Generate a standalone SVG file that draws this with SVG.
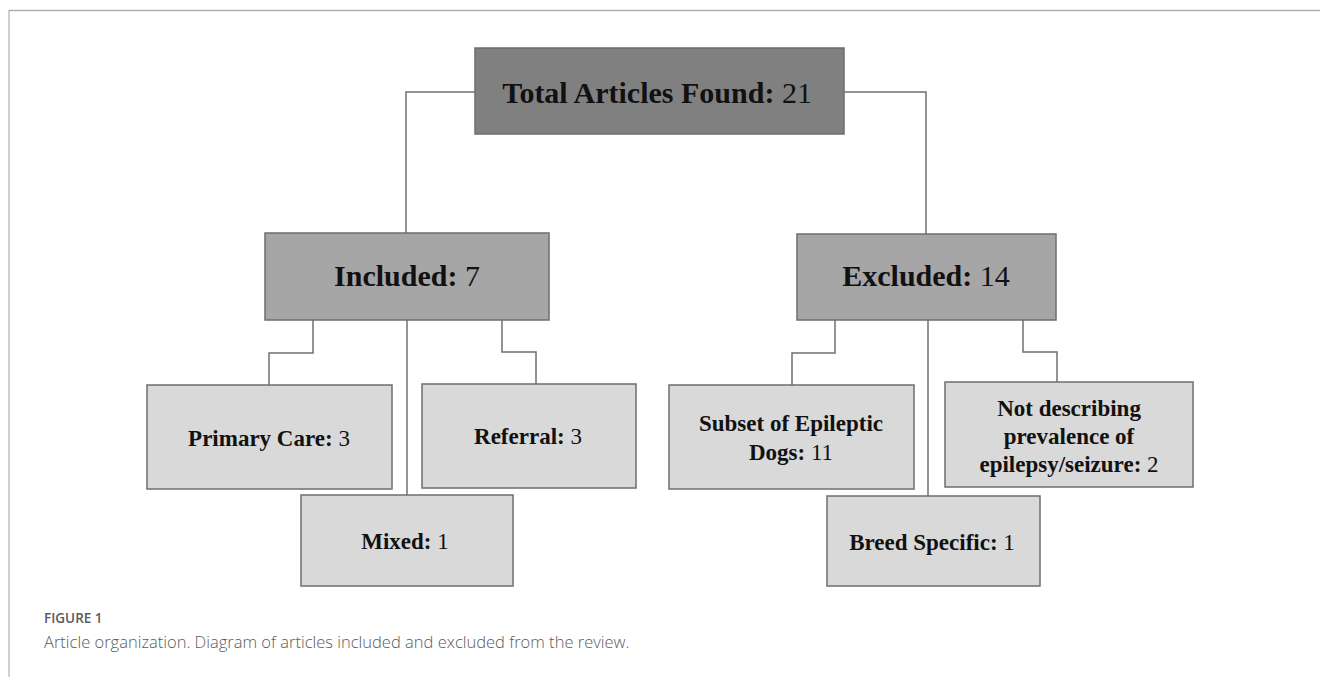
<svg xmlns="http://www.w3.org/2000/svg" width="1320" height="677" viewBox="0 0 1320 677">
<style>
.box{stroke:#6e6e6e;stroke-width:1.5}
.l0{fill:#808080}
.l1{fill:#a6a6a6}
.l2{fill:#d9d9d9}
.t{font-family:"Liberation Serif","Times New Roman",serif;font-weight:bold;fill:#111;text-anchor:middle}
.n{font-weight:normal}
.big{font-size:30px}
.sm{font-size:23px}
.conn{fill:none;stroke:#707070;stroke-width:1.5}
.cap{font-family:"Open Sans","Liberation Sans",sans-serif;fill:#5a5a5a}
</style>
<rect width="1320" height="677" fill="#ffffff"/>
<g id="frame">
<line x1="9" y1="10.5" x2="1320" y2="10.5" stroke="#b0b0b0" stroke-width="1.5"/>
<line x1="9" y1="10" x2="9" y2="677" stroke="#b0b0b0" stroke-width="1.2"/>
</g>
<g id="connectors">
<polyline class="conn" points="475,92 406,92 406,233"/>
<polyline class="conn" points="844,92 926,92 926,234"/>
<polyline class="conn" points="313,320 313,353 269,353 269,385"/>
<line class="conn" x1="407" y1="320" x2="407" y2="495"/>
<polyline class="conn" points="502,320 502,352 536,352 536,384"/>
<polyline class="conn" points="835,320 835,353 792,353 792,385"/>
<line class="conn" x1="928" y1="320" x2="928" y2="496"/>
<polyline class="conn" points="1023,320 1023,352 1057,352 1057,382"/>
</g>
<g id="total">
<rect class="box l0" x="475" y="48" width="369" height="86"/>
<text class="t big" x="657" y="103">Total Articles Found: <tspan class="n">21</tspan></text>
</g>
<g id="included">
<rect class="box l1" x="265" y="233" width="284" height="87"/>
<text class="t big" x="407" y="286">Included: <tspan class="n">7</tspan></text>
</g>
<g id="excluded">
<rect class="box l1" x="797" y="234" width="259" height="86"/>
<text class="t big" x="926" y="286">Excluded: <tspan class="n">14</tspan></text>
</g>
<g id="primary">
<rect class="box l2" x="147" y="385" width="245" height="104"/>
<text class="t sm" x="269" y="446">Primary Care: <tspan class="n">3</tspan></text>
</g>
<g id="referral">
<rect class="box l2" x="422" y="384" width="214" height="104"/>
<text class="t sm" x="528" y="444">Referral: <tspan class="n">3</tspan></text>
</g>
<g id="mixed">
<rect class="box l2" x="301" y="495" width="212" height="91"/>
<text class="t sm" x="405" y="549">Mixed: <tspan class="n">1</tspan></text>
</g>
<g id="subset">
<rect class="box l2" x="669" y="385" width="245" height="104"/>
<text class="t sm" x="791" y="431">Subset of Epileptic</text>
<text class="t sm" x="791" y="460">Dogs: <tspan class="n">11</tspan></text>
</g>
<g id="breed">
<rect class="box l2" x="827" y="496" width="213" height="90"/>
<text class="t sm" x="932" y="550">Breed Specific: <tspan class="n">1</tspan></text>
</g>
<g id="notdescribing">
<rect class="box l2" x="945" y="382" width="248" height="105"/>
<text class="t sm" x="1069" y="416">Not describing</text>
<text class="t sm" x="1069" y="444">prevalence of</text>
<text class="t sm" x="1069" y="472">epilepsy/seizure: <tspan class="n">2</tspan></text>
</g>
<g id="caption">
<text class="cap" x="44" y="623" font-size="13.5" font-weight="600" fill="#666">FIGURE 1</text>
<text class="cap" x="44" y="648" font-size="16.5" font-weight="300">Article organization. Diagram of articles included and excluded from the review.</text>
</g>
</svg>
